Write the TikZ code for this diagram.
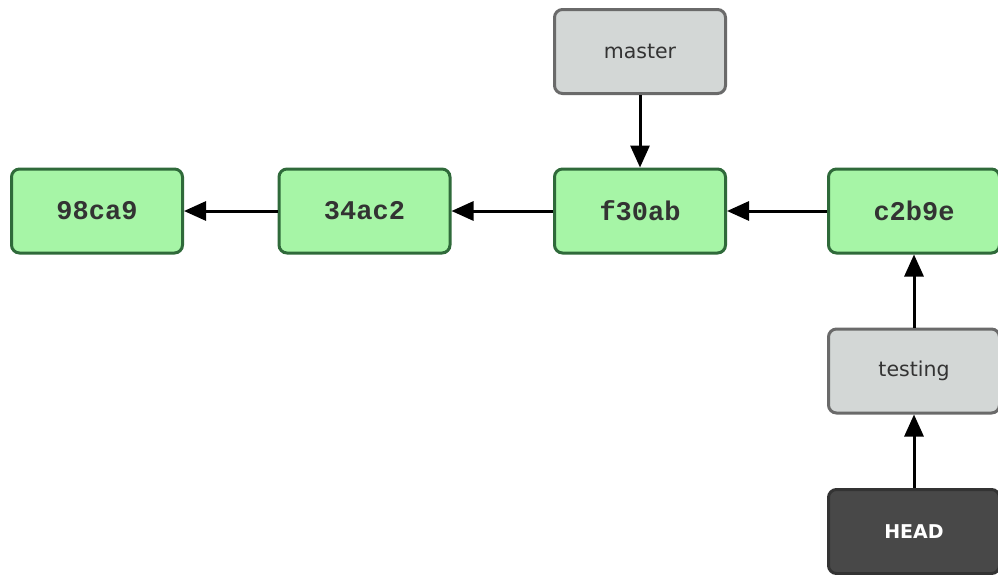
\documentclass[tikz,border=0pt]{standalone}
\usepackage{fontspec}
\setmainfont{DejaVu Sans}
\newfontfamily\commitfont{Liberation Mono}
\usetikzlibrary{arrows.meta}
\definecolor{cfill}{HTML}{A6F5A6}
\definecolor{cdraw}{HTML}{2F6A3A}
\definecolor{bfill}{HTML}{D3D7D6}
\definecolor{bdraw}{HTML}{6A6A6A}
\definecolor{hfill}{HTML}{484848}
\definecolor{hdraw}{HTML}{333333}
\definecolor{txt}{HTML}{333333}
\tikzset{
  box/.style={rounded corners=8pt, line width=3pt, minimum width=171pt, minimum height=84pt, inner sep=0pt},
  commit/.style={box, fill=cfill, draw=cdraw, text=txt, font=\commitfont\bfseries\fontsize{27}{30}\selectfont},
  branch/.style={box, fill=bfill, draw=bdraw, text=txt, font=\fontsize{20.5}{24}\selectfont},
  headbox/.style={box, fill=hfill, draw=hdraw, text=white, font=\bfseries\fontsize{19}{22}\selectfont},
  ptr/.style={line width=3pt, -{Triangle[length=22pt,width=19pt]}, black}
}
\begin{document}
\begin{tikzpicture}[x=1pt,y=-1pt]
\useasboundingbox (0,0) rectangle (998,574);
\fill[white] (0,0) rectangle (998,574);
\node[commit] (c1) at (97,211) {98ca9};
\node[commit] (c2) at (364.5,211) {34ac2};
\node[commit] (c3) at (640,211) {f30ab};
\node[commit] (c4) at (914,211) {c2b9e};
\node[branch] (master) at (640,51.5) {master};
\node[branch] (testing) at (914,371) {testing};
\node[headbox] (head) at (914,531.5) {HEAD};
\draw[ptr] (c2) -- (c1);
\draw[ptr] (c3) -- (c2);
\draw[ptr] (c4) -- (c3);
\draw[ptr] (master) -- (c3);
\draw[ptr] (testing) -- (c4);
\draw[ptr] (head) -- (testing);
\end{tikzpicture}
\end{document}
